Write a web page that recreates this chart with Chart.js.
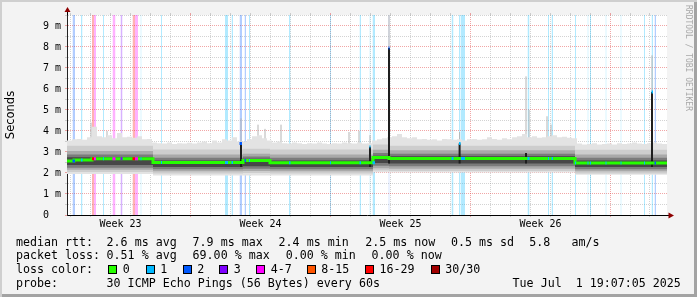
<!DOCTYPE html>
<html>
<head>
<meta charset="utf-8">
<script src="https://cdn.jsdelivr.net/npm/chart.js@4.4.1/dist/chart.umd.min.js"></script>
<style>
html,body{margin:0;padding:0;background:#f3f3f3;}
#wrap{position:relative;width:697px;height:297px;background:#f3f3f3;overflow:hidden;}
#wrap canvas{position:absolute;left:0;top:0;}
#frame{position:absolute;left:0;top:0;width:697px;height:297px;box-shadow:inset 2px 2px 0 #cfcfcf, inset -3px -3px 0 #a3a3a3;pointer-events:none;}
.t{position:absolute;font-family:"DejaVu Sans Mono",monospace;font-size:11.65px;line-height:14px;white-space:pre;color:#000;}
.sw{position:absolute;width:9px;height:9px;box-sizing:border-box;border:1px solid #000;}
#credit{position:absolute;left:683px;top:5px;font-family:"DejaVu Sans Mono",monospace;font-size:8px;line-height:10px;color:#a8a8a8;white-space:pre;writing-mode:vertical-rl;}
</style>
</head>
<body>
<div id="wrap">
<canvas id="c" width="697" height="297"></canvas>
<div id="legend"></div>
<div id="credit">RRDTOOL / TOBI OETIKER</div>
<div id="frame"></div>
</div>
<script>
// ---------------- DATA ----------------
// time axis in days from the left edge of the plot (30 days shown)
const yMaxMs = 9.52;
const yTickMs = [0,0.5,1,1.5,2,2.5,3,3.5,4,4.5,5,5.5,6,6.5,7,7.5,8,8.5,9,9.5];
const dayGrid = [0.15,1.15,2.15,3.15,4.15,5.15,6.15,7.15,8.15,9.15,10.15,11.15,12.15,13.15,14.15,15.15,16.15,17.15,18.15,19.15,20.15,21.15,22.15,23.15,24.15,25.15,26.15,27.15,28.15,29.15];
const weekGrid = [6.15,13.15,20.15,27.15];
const weekLabelDay = [2.675,9.675,16.675,23.675];
const weekLabels = ['Week 23','Week 24','Week 25','Week 26'];

// median RTT (ms), step values starting at given day
const medianDay = [0, 0.35, 1.25, 4.3, 8.8, 10.15, 15.3, 16.1, 25.4];
const medianMs  = [2.57, 2.62, 2.68, 2.5, 2.6, 2.49, 2.74, 2.69, 2.48];

// smoke bands (ms), step values starting at given day
const smokeDay = [0, 4.3, 8.8, 10.15, 15.3, 16.1, 25.4];
const smokeLo1 = [1.95, 1.88, 1.88, 1.88, 2.04, 2.02, 1.92];
const smokeLo2 = [2.05, 1.98, 2.0, 1.98, 2.12, 2.1, 1.98];
const smokeHi2 = [3.3, 3.12, 3.15, 3.12, 3.35, 3.3, 3.1];
const smokeLo3 = [2.15, 2.08, 2.1, 2.08, 2.22, 2.2, 2.08];
const smokeHi3 = [3.05, 2.88, 2.92, 2.88, 3.1, 3.08, 2.88];
const smokeLo4 = [2.25, 2.18, 2.2, 2.18, 2.35, 2.32, 2.18];
const smokeHi4 = [2.88, 2.72, 2.78, 2.72, 2.95, 2.92, 2.72];
const smokeLo5 = [2.38, 2.28, 2.32, 2.28, 2.48, 2.45, 2.28];
const smokeHi5 = [2.75, 2.6, 2.68, 2.6, 2.82, 2.8, 2.6];
// top of the light smoke, one value per quarter day
const smokeTop = [
 3.55,3.6,3.62,3.58,3.7,4.2,3.75,3.7,3.8,3.65,3.9,3.7,3.72,3.68,3.75,3.6,3.62,
 3.45,3.42,3.4,3.45,3.38,3.42,3.4,3.44,3.4,3.45,3.5,3.42,3.55,3.45,3.6,3.55,3.7,3.5,
 3.5,3.6,3.75,3.8,3.65,3.55,3.45,3.5,3.42,3.4,3.45,3.42,3.38,3.42,3.4,3.45,3.4,3.38,3.42,3.4,3.45,3.42,3.4,3.45,3.4,3.42,
 3.55,3.6,3.65,3.7,3.75,3.85,3.7,3.65,3.7,3.6,3.62,3.58,3.6,3.55,3.62,3.6,3.58,3.6,3.55,3.6,3.62,3.58,3.6,3.7,3.62,3.58,3.65,3.6,3.7,3.75,3.85,3.7,3.75,3.68,3.7,3.75,3.8,3.7,3.72,3.68,3.65,
 3.4,3.35,3.38,3.42,3.35,3.38,3.4,3.36,3.42,3.38,3.4,3.45,3.4,3.38,3.42,3.45,3.4,3.38
];
// single high pings
const lightSpikeDay = [1.2, 2.0, 8.7, 9.55, 9.9, 10.7, 14.1, 14.6, 15.15, 16.1, 19.63, 22.95, 23.1, 24.0, 24.2, 29.25];
const lightSpikeMs  = [4.4, 4.0, 4.6, 4.3, 4.1, 4.3, 3.95, 4.0, 3.8, 9.6, 3.95, 6.6, 5.0, 4.7, 4.3, 7.6];
const darkSpikeDay  = [8.7, 15.15, 16.1, 19.63, 22.95, 29.25];
const darkSpikeMs   = [3.4, 3.25, 7.95, 3.4, 2.95, 5.85];

// packet loss intervals (day start, day end, loss colour index)
const lossStart = [0.275,0.7,1.25,1.35,1.8,2.275,2.675,3.275,3.4,3.675,4.7,7.9,8.225,8.625,8.875,9.1,11.1,13.15,14.625,15.125,15.275,16.075,19.225,19.6,19.7,23.025,24.05,24.225,25.4,26.025,26.15,26.925,27.675,28.85,29.225,29.375];
const lossEnd   = [0.4,0.775,1.35,1.45,1.85,2.425,2.775,3.4,3.55,3.725,4.75,8.05,8.3,8.75,8.95,9.15,11.175,13.2,14.7,15.175,15.4,16.125,19.325,19.68,19.9,23.125,24.1,24.3,25.45,26.075,26.2,26.975,27.725,28.9,29.3,29.45];
const lossLevel = [2,1,6,4,1,4,3,6,4,1,1,1,1,2,2,1,1,1,1,1,1,2,1,1,1,1,1,1,1,1,1,1,1,1,1,2];

const lossNames  = ['0','1','2','3','4-7','8-15','16-29','30/30'];
const lossColors = ['#26ff00','#00b8ff','#0059ff','#7e00ff','#ff00ff','#ff5500','#ff0000','#a10000'];

const rttStats  = ['2.6 ms avg','7.9 ms max','2.4 ms min','2.5 ms now','0.5 ms sd','5.8','am/s'];
const lossStats = ['0.51 % avg','69.00 % max','0.00 % min','0.00 % now'];
const probeText = '30 ICMP Echo Pings (56 Bytes) every 60s';
const dateText  = 'Tue Jul  1 19:07:05 2025';

// ---------------- BUILD ----------------
const END = 30;
function stepPts(ts, vs){ const p = ts.map((t,i)=>({x:t,y:vs[i]})); p.push({x:END,y:vs[vs.length-1]}); return p; }
function lookup(ts, vs, t){ let v = vs[0]; for(let i=0;i<ts.length;i++){ if(ts[i] <= t) v = vs[i]; } return v; }
function hexA(h,a){ const r=parseInt(h.slice(1,3),16),g=parseInt(h.slice(3,5),16),b=parseInt(h.slice(5,7),16); return `rgba(${r},${g},${b},${a})`; }
const NONE = 'rgba(0,0,0,0)';

const datasets = [];
function add(d){ datasets.push(Object.assign({pointRadius:0, borderCapStyle:'butt'}, d)); return datasets.length-1; }

// loss background stripes
for (let L=1; L<lossColors.length; L++){
  const pts = [];
  lossStart.forEach((s,i)=>{ if(lossLevel[i]===L){ pts.push({x:s,y:yMaxMs},{x:lossEnd[i],y:yMaxMs},{x:lossEnd[i],y:null}); } });
  if (pts.length) add({data:pts, borderColor:NONE, borderWidth:0, backgroundColor:hexA(lossColors[L],0.3), fill:'origin', order:100});
}
// light spikes (behind smoke)
{
  const pts = [];
  lightSpikeDay.forEach((t,i)=>{ pts.push({x:t,y:lookup(smokeDay,smokeLo5,t)},{x:t,y:lightSpikeMs[i]},{x:t,y:null}); });
  add({data:pts, borderColor:'#b4b4b4', borderWidth:1, fill:false, order:95});
}
// smoke bands
const topPts = smokeTop.map((v,i)=>({x:i/4,y:v})); topPts.push({x:END,y:smokeTop[smokeTop.length-1]});
const bands = [
  [smokeLo1, null, '#e3e3e3'],
  [smokeLo2, smokeHi2, '#cdcdcd'],
  [smokeLo3, smokeHi3, '#a9a9a9'],
  [smokeLo4, smokeHi4, '#7b7b7b'],
  [smokeLo5, smokeHi5, '#474747']
];
bands.forEach((b,k)=>{
  const lo = add({data:stepPts(smokeDay,b[0]), borderColor:NONE, borderWidth:0, fill:false, stepped:'before', order:90-k*10+1});
  add({data: b[1] ? stepPts(smokeDay,b[1]) : topPts, borderColor:NONE, borderWidth:0, backgroundColor:b[2], fill:lo, stepped:'before', order:90-k*10});
});
// dark spikes
{
  const pts = [];
  darkSpikeDay.forEach((t,i)=>{ pts.push({x:t,y:lookup(smokeDay,smokeLo5,t)},{x:t,y:darkSpikeMs[i]},{x:t,y:null}); });
  add({data:pts, borderColor:'#1e1e1e', borderWidth:2, fill:false, order:20});
}
// median line
add({data:stepPts(medianDay,medianMs), borderColor:lossColors[0], borderWidth:3, fill:false, stepped:'before', order:10});
// loss-coloured median pieces
for (let L=1; L<lossColors.length; L++){
  const pts = [];
  lossStart.forEach((s,i)=>{
    if(lossLevel[i]!==L) return;
    const e = lossEnd[i];
    let m = lookup(medianDay,medianMs,s);
    darkSpikeDay.forEach((t,j)=>{ if(t>=s && t<=e) m = darkSpikeMs[j]; });
    pts.push({x:s,y:m},{x:e,y:m},{x:e,y:null});
  });
  if (pts.length) add({data:pts, borderColor:lossColors[L], borderWidth:3, fill:false, order:5});
}

// ---------------- CHART ----------------
const GRID_GRAY = 'rgba(150,150,150,0.42)';
const GRID_RED  = 'rgba(225,70,70,0.48)';
function xGridColor(v){ if (weekGrid.indexOf(v)>=0) return GRID_RED; if (dayGrid.indexOf(v)>=0) return GRID_GRAY; return NONE; }
function yGridColor(v){ return Number.isInteger(v) ? GRID_RED : GRID_GRAY; }
const monoTick = {family:'DejaVu Sans Mono', size:10};

const plotBg = { id:'plotBg', beforeDraw(chart){ const {ctx, chartArea:a} = chart; ctx.save(); ctx.fillStyle='#ffffff'; ctx.fillRect(a.left,a.top,a.right-a.left,a.bottom-a.top); ctx.restore(); } };
const arrows = { id:'arrows', afterDraw(chart){
  const {ctx, chartArea:a} = chart; const xs = Math.round(a.left-0.5)+0.5, ys = Math.round(a.bottom-0.5)+0.5;
  ctx.save(); ctx.strokeStyle='#000'; ctx.lineWidth=1;
  ctx.beginPath(); ctx.moveTo(xs,a.top); ctx.lineTo(xs,a.top-4); ctx.moveTo(a.right,ys); ctx.lineTo(a.right+2,ys); ctx.stroke();
  ctx.fillStyle='#8e0000';
  ctx.beginPath(); ctx.moveTo(xs,a.top-8); ctx.lineTo(xs-3,a.top-3); ctx.lineTo(xs+3,a.top-3); ctx.closePath(); ctx.fill();
  ctx.beginPath(); ctx.moveTo(a.right+7,ys); ctx.lineTo(a.right+1.5,ys-3); ctx.lineTo(a.right+1.5,ys+3); ctx.closePath(); ctx.fill();
  ctx.restore(); } };

new Chart(document.getElementById('c'), {
  type:'line',
  data:{datasets},
  plugins:[plotBg, arrows],
  options:{
    responsive:false, animation:false, events:[], devicePixelRatio:1,
    layout:{padding:{left:0,right:30,top:13,bottom:62}},
    plugins:{legend:{display:false}, tooltip:{enabled:false}},
    scales:{
      x:{ type:'linear', position:'bottom', min:0, max:END, z:1,
        afterBuildTicks:s=>{ s.ticks = dayGrid.concat(weekLabelDay).sort((a,b)=>a-b).map(v=>({value:v})); },
        afterFit:s=>{ s.height = 20; },
        ticks:{ autoSkip:false, maxRotation:0, minRotation:0, padding:1.5, color:'#000', font:monoTick,
          callback:v=>{ const i = weekLabelDay.indexOf(v); return i>=0 ? weekLabels[i] : ''; } },
        grid:{ color:c=>xGridColor(c.tick.value), tickColor:c=>xGridColor(c.tick.value), tickLength:2, lineWidth:1 },
        border:{ display:true, color:'#000', width:1, dash:[1,1] } },
      xTop:{ type:'linear', axis:'x', position:'top', min:0, max:END,
        afterBuildTicks:s=>{ s.ticks = dayGrid.map(v=>({value:v})); },
        afterFit:s=>{ s.height = 2; },
        ticks:{ display:false },
        grid:{ drawOnChartArea:false, drawTicks:true, tickLength:2, tickColor:c=>xGridColor(c.tick.value) },
        border:{ display:false } },
      y:{ type:'linear', position:'left', min:0, max:yMaxMs, z:1,
        afterBuildTicks:s=>{ s.ticks = yTickMs.map(v=>({value:v})); },
        afterFit:s=>{ s.width = 67; },
        ticks:{ autoSkip:false, padding:4, color:'#000', font:monoTick,
          callback:v=> v===0 ? '0  ' : (Number.isInteger(v) ? v+' m' : '') },
        grid:{ color:c=>yGridColor(c.tick.value), tickColor:c=>yGridColor(c.tick.value), tickLength:2, lineWidth:1 },
        border:{ display:true, color:'#222', width:1, dash:[1,1] },
        title:{ display:true, text:'Seconds', color:'#000', font:{family:'DejaVu Sans', size:11.5}, padding:{top:4.5,bottom:4} } }
    }
  }
});

// ---------------- LEGEND (text) ----------------
const leg = document.getElementById('legend');
function txt(s,x,y){ const d=document.createElement('div'); d.className='t'; d.textContent=s; d.style.left=x+'px'; d.style.top=y+'px'; leg.appendChild(d); }
const rowTop = [234.5, 248, 262.3, 275.7];
const colX = [106.6, 192.6, 278.6, 365.3, 451, 529.3, 571.6];
txt('median rtt:',16,rowTop[0]);
rttStats.forEach((s,i)=>txt(s,colX[i],rowTop[0]));
txt('packet loss:',16,rowTop[1]);
const lossX = [106.6, 192.6, 285.8, 371.6];
lossStats.forEach((s,i)=>txt(s,lossX[i],rowTop[1]));
txt('loss color:',16,rowTop[2]);
const swX = [108.3,145.7,182.7,219.3,256.3,306.7,365,430.7];
lossNames.forEach((n,i)=>{
  const b=document.createElement('div'); b.className='sw'; b.style.left=swX[i]+'px'; b.style.top='265px'; b.style.background=lossColors[i]; leg.appendChild(b);
  txt(n, swX[i]+14.5, rowTop[2]);
});
txt('probe:',16,rowTop[3]);
txt(probeText,106.6,rowTop[3]);
txt(dateText,512.6,rowTop[3]);
</script>
</body>
</html>
